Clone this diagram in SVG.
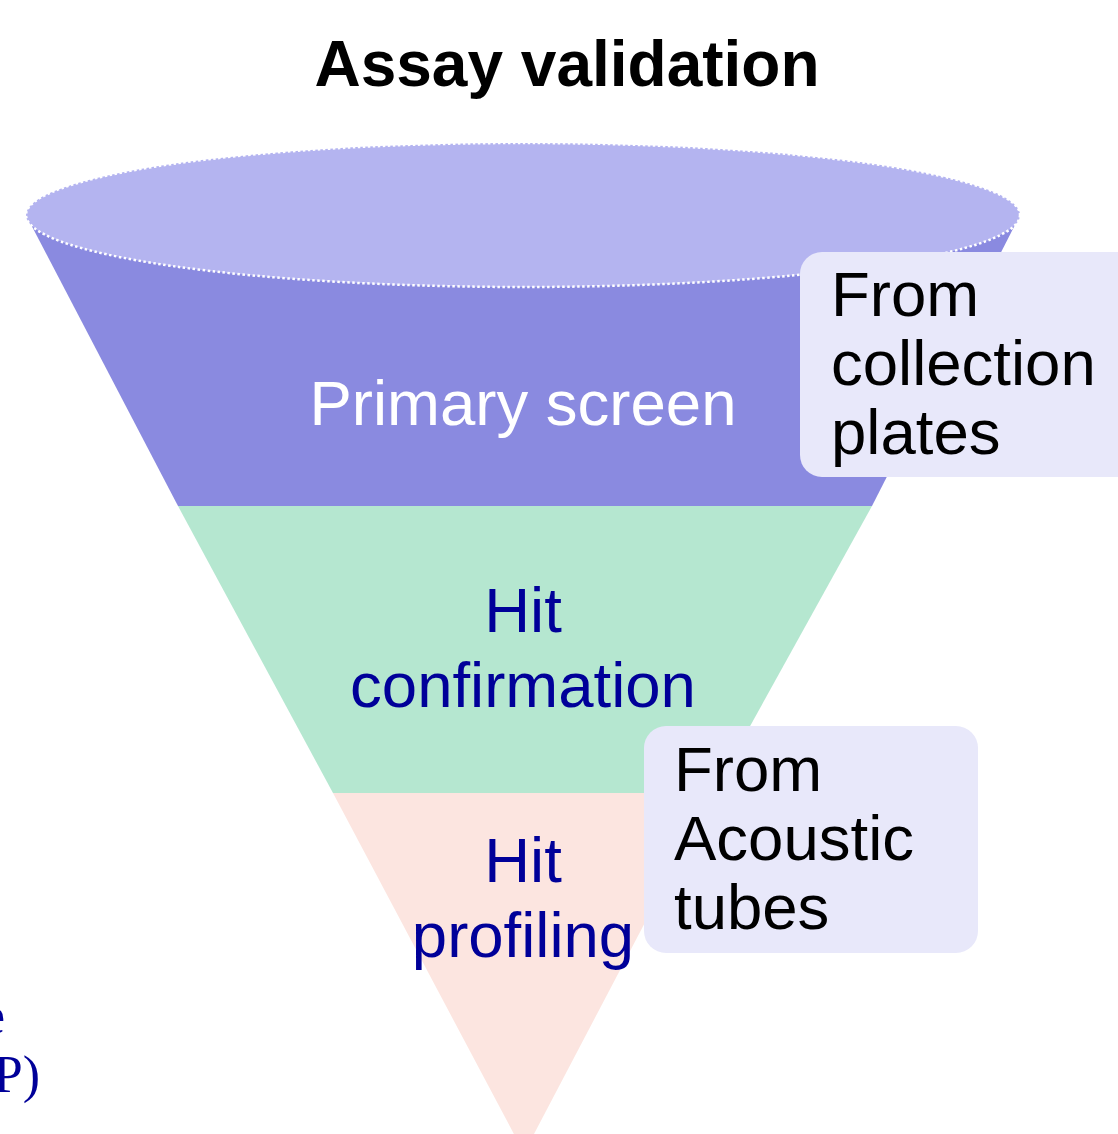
<svg xmlns="http://www.w3.org/2000/svg" width="1118" height="1134" viewBox="0 0 1118 1134">
<style>
.t{font-family:"Liberation Sans",Arial,sans-serif;font-size:63.5px}
.blue{fill:#000099}
.white{fill:#ffffff}
.black{fill:#000000}
.box{fill:#E8E8FA}
.serif{font-family:"Liberation Serif","Times New Roman",serif;font-size:52px;fill:#000099}
</style>
<rect width="1118" height="1134" fill="#ffffff"/>
<g id="title">
<text x="567" y="86" text-anchor="middle" font-family="Liberation Sans, Arial, sans-serif" font-weight="bold" font-size="64" fill="#000">Assay validation</text>
</g>
<g id="primary-screen">
<polygon points="26,215 1020,215 872,506 178,506" fill="#8A8AE0"/>
<ellipse cx="523" cy="215" rx="497" ry="72" fill="#B4B4F0" stroke="#ffffff" stroke-width="2.5" stroke-dasharray="2.5 2.5"/>
<text class="t white" x="523" y="425" text-anchor="middle">Primary screen</text>
</g>
<g id="hit-confirmation">
<polygon points="178,506 872,506 713,793 333,793" fill="#B5E7D0"/>
<text class="t blue" text-anchor="middle"><tspan x="523" y="632">Hit</tspan><tspan x="523" y="707">confirmation</tspan></text>
</g>
<g id="hit-profiling">
<polygon points="333,793 713,793 524,1153" fill="#FCE5E0"/>
<text class="t blue" text-anchor="middle"><tspan x="523" y="882">Hit</tspan><tspan x="523" y="957">profiling</tspan></text>
</g>
<g id="from-collection-plates">
<rect class="box" x="800" y="252" width="340" height="225" rx="22"/>
<text class="t black"><tspan x="831" y="316">From</tspan><tspan x="831" y="385">collection</tspan><tspan x="831" y="454">plates</tspan></text>
</g>
<g id="from-acoustic-tubes">
<rect class="box" x="644" y="726" width="334" height="227" rx="22"/>
<text class="t black"><tspan x="674" y="791">From</tspan><tspan x="674" y="860">Acoustic</tspan><tspan x="674" y="929">tubes</tspan></text>
</g>
<g id="left-cut-text">
<text class="serif" text-anchor="end"><tspan x="5" y="1033">e</tspan><tspan x="40" y="1092">P)</tspan></text>
</g>
<g id="connectors"></g>
</svg>
